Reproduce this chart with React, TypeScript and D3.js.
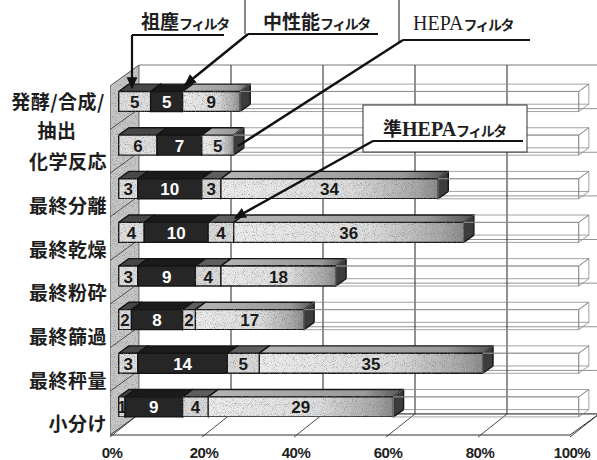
import * as d3 from "d3";

// 工程ごとのフィルタ使用数(全72件に対する割合で表示)
const categories = ["発酵/合成/抽出", "化学反応", "最終分離", "最終乾燥", "最終粉砕", "最終篩過", "最終秤量", "小分け"];
const coarse = [5, 6, 3, 4, 3, 2, 3, 1]; // 祖塵フィルタ
const medium = [5, 7, 10, 10, 9, 8, 14, 9]; // 中性能フィルタ
const semiHepa = [0, 0, 3, 4, 4, 2, 5, 4]; // 準HEPAフィルタ
const hepa = [9, 5, 34, 36, 18, 17, 35, 29]; // HEPAフィルタ
const noFilter = [53, 54, 22, 18, 38, 43, 15, 29]; // 残り(ラベルなし)
const tickValues = [0, 0.2, 0.4, 0.6, 0.8, 1];

const keys = ["coarse", "medium", "semiHepa", "hepa", "none"];

// 3D の奥行き
const DX = 29;
const DY = -21;
const Z0 = 0.3;
const Z1 = 0.65;

const style: Record<string, { front: string; top: string; right: string; text: string; grain: boolean }> = {
  coarse: { front: "#dedede", top: "#474747", right: "#333", text: "#1a1a1a", grain: true },
  medium: { front: "#262626", top: "#1b1b1b", right: "#111", text: "#fff", grain: false },
  semiHepa: { front: "#d8d8d8", top: "#5e5e5e", right: "#333", text: "#1a1a1a", grain: true },
  hepa: { front: "url(#hepaFront)", top: "url(#hepaTop)", right: "#3c3c3c", text: "#1a1a1a", grain: true },
};

export default function App() {
  const width = 597;
  const height = 460;

  const rows = categories.map((c, i) => ({
    cat: c,
    coarse: coarse[i],
    medium: medium[i],
    semiHepa: semiHepa[i],
    hepa: hepa[i],
    none: noFilter[i],
  }));

  const stacked = d3
    .stack<any>()
    .keys(keys)
    .offset(d3.stackOffsetExpand)(rows);

  const x = d3.scaleLinear().domain([0, 1]).range([110, 570]);
  const y = d3
    .scaleBand()
    .domain(categories)
    .range([86, 435])
    .paddingInner(0.54)
    .paddingOuter(0.27);
  const fmt = d3.format(".0%");

  const yTop = 86;
  const yBot = 435;
  const pt = (v: number, yy: number, z: number): [number, number] => [x(v) + DX * z, yy + DY * z];
  const poly = (ps: [number, number][]) => ps.map((p) => p.join(",")).join(" ");

  // カテゴリ境界(前面)
  const step = y.step();
  const bounds = d3.range(1, categories.length).map((k) => yTop + step * k);

  return (
    <svg
      width={width}
      height={height}
      style={{ position: "absolute", left: 0, top: 0, background: "#fff" }}
      fontFamily="'Noto Sans CJK JP', sans-serif"
    >
      <defs>
        <filter id="grain" x="0" y="0" width="1" height="1">
          <feTurbulence type="fractalNoise" baseFrequency="1.1" numOctaves="1" seed="5" result="n" />
          <feColorMatrix
            in="n"
            type="matrix"
            values="0 0 0 0 0.15  0 0 0 0 0.15  0 0 0 0 0.15  2.6 0 0 0 -1.35"
            result="d"
          />
          <feComposite in="d" in2="SourceGraphic" operator="in" result="dm" />
          <feMerge>
            <feMergeNode in="SourceGraphic" />
            <feMergeNode in="dm" />
          </feMerge>
        </filter>
        <linearGradient id="hepaFront" x1="0" x2="1" y1="0" y2="0">
          <stop offset="0" stopColor="#ececec" />
          <stop offset="0.6" stopColor="#dcdcdc" />
          <stop offset="0.9" stopColor="#a8a8a8" />
          <stop offset="1" stopColor="#8a8a8a" />
        </linearGradient>
        <linearGradient id="hepaTop" x1="0" x2="1" y1="0" y2="0">
          <stop offset="0" stopColor="#b5b5b5" />
          <stop offset="0.8" stopColor="#999" />
          <stop offset="1" stopColor="#555" />
        </linearGradient>
        <marker
          id="arrow"
          viewBox="0 0 10 10"
          refX="9"
          refY="5"
          markerWidth="12"
          markerHeight="12"
          markerUnits="userSpaceOnUse"
          orient="auto"
        >
          <path d="M0,0.5 L10,5 L0,9.5 z" fill="#111" />
        </marker>
      </defs>

      {/* 奥の壁 */}
      <polygon
        points={poly([pt(0, yTop, 1), pt(1, yTop, 1), pt(1, yBot, 1), pt(0, yBot, 1)])}
        fill="#fff"
        stroke="#555"
        strokeWidth={0.8}
      />
      {bounds.map((b, i) => (
        <line
          key={"hg" + i}
          x1={pt(0, b, 1)[0]}
          x2={pt(1, b, 1)[0]}
          y1={pt(0, b, 1)[1]}
          y2={pt(1, b, 1)[1]}
          stroke="#777"
          strokeWidth={0.8}
        />
      ))}
      {tickValues.slice(1, -1).map((t) => (
        <line
          key={"vg" + t}
          x1={pt(t, yTop, 1)[0]}
          x2={pt(t, yBot, 1)[0]}
          y1={pt(t, yTop, 1)[1]}
          y2={pt(t, yBot, 1)[1]}
          stroke="#222"
          strokeWidth={1}
        />
      ))}

      {/* 床 */}
      <polygon
        points={poly([pt(0, yBot, 0), pt(1, yBot, 0), pt(1, yBot, 1), pt(0, yBot, 1)])}
        fill="#fff"
        stroke="#333"
        strokeWidth={1}
      />
      {tickValues.map((t) => (
        <line
          key={"fl" + t}
          x1={pt(t, yBot, 0)[0]}
          y1={pt(t, yBot, 0)[1] + 2}
          x2={pt(t, yBot, 1)[0]}
          y2={pt(t, yBot, 1)[1]}
          stroke="#333"
          strokeWidth={0.9}
        />
      ))}

      {/* 左の壁 */}
      <polygon
        points={poly([pt(0, yTop, 0), pt(0, yTop, 1), pt(0, yBot, 1), pt(0, yBot, 0)])}
        fill="#c6c6c6"
        stroke="#444"
        strokeWidth={0.9}
        filter="url(#grain)"
      />
      {bounds.map((b, i) => (
        <line
          key={"wl" + i}
          x1={pt(0, b, 0)[0]}
          y1={pt(0, b, 0)[1]}
          x2={pt(0, b, 1)[0]}
          y2={pt(0, b, 1)[1]}
          stroke="#444"
          strokeWidth={0.9}
        />
      ))}

      {/* 棒 */}
      {categories.map((c, i) => {
        const yt = y(c) as number;
        const yb = yt + y.bandwidth();
        return (
          <g key={c}>
            {stacked.map((s) => {
              const v0 = s[i][0];
              const v1 = s[i][1];
              if (v1 - v0 <= 0) return null;
              const front = [pt(v0, yt, Z0), pt(v1, yt, Z0), pt(v1, yb, Z0), pt(v0, yb, Z0)];
              const top = [pt(v0, yt, Z0), pt(v1, yt, Z0), pt(v1, yt, Z1), pt(v0, yt, Z1)];
              const right = [pt(v1, yt, Z0), pt(v1, yt, Z1), pt(v1, yb, Z1), pt(v1, yb, Z0)];
              if (s.key === "none") {
                const a = pt(v0, yb, Z1);
                const b = pt(v1, yb, Z1);
                return (
                  <g key={s.key} fill="none" stroke="#8a8a8a" strokeWidth={0.8}>
                    <polygon points={poly(front)} />
                    <polygon points={poly(top)} />
                    <polygon points={poly(right)} />
                    <line x1={a[0]} y1={a[1]} x2={b[0]} y2={b[1]} />
                  </g>
                );
              }
              const st = style[s.key];
              const cx = (front[0][0] + front[1][0]) / 2;
              const cy = (front[0][1] + front[2][1]) / 2;
              const val = (rows[i] as any)[s.key];
              return (
                <g key={s.key} stroke="#151515" strokeWidth={1.4} strokeLinejoin="round">
                  <polygon points={poly(top)} fill={st.top} />
                  <polygon points={poly(right)} fill={st.right} />
                  <polygon
                    points={poly(front)}
                    fill={st.front}
                    filter={st.grain ? "url(#grain)" : undefined}
                  />
                  <text
                    x={cx}
                    y={cy + 1}
                    textAnchor="middle"
                    dominantBaseline="central"
                    fill={st.text}
                    stroke="none"
                    fontFamily="'Liberation Sans', Arial, sans-serif"
                    fontWeight="bold"
                    fontSize={17}
                  >
                    {val}
                  </text>
                </g>
              );
            })}
          </g>
        );
      })}

      {/* カテゴリラベル */}
      {categories.map((c) => {
        const cy = (y(c) as number) + y.bandwidth() / 2 + 9;
        const cut = c.lastIndexOf("/");
        const lines = cut > 0 && cut < c.length - 1 ? [c.slice(0, cut + 1), c.slice(cut + 1)] : [c];
        return (
          <text
            key={"cl" + c}
            textAnchor={lines.length > 1 ? "middle" : "end"}
            fontSize={19}
            fontWeight="bold"
            fill="#1e1e1e"
            dominantBaseline="central"
            letterSpacing={0.5}
          >
            {lines.length > 1 ? (
              lines.map((l, k) => (
                <tspan key={k} x={k === 0 ? 58 : 57} y={cy - 17 + k * 29}>
                  {l}
                </tspan>
              ))
            ) : (
              <tspan x={107} y={cy}>
                {c}
              </tspan>
            )}
          </text>
        );
      })}

      {/* 目盛ラベル */}
      {tickValues.map((t) => (
        <text
          key={"tk" + t}
          x={x(t) + 2}
          y={458}
          textAnchor="middle"
          fontFamily="'Liberation Sans', Arial, sans-serif"
          fontWeight="bold"
          fontSize={15}
          letterSpacing={-0.5}
          fill="#1e1e1e"
        >
          {fmt(t)}
        </text>
      ))}

      {/* 凡例の引き出し */}
      <g stroke="#111" fill="none">
        <line x1={245} y1={0} x2={245} y2={34} strokeWidth={1} />
        <line x1={399} y1={0} x2={399} y2={42} strokeWidth={1} />
        <line x1={132} y1={35} x2={224} y2={35} strokeWidth={2} />
        <line x1={132} y1={35} x2={132} y2={88} strokeWidth={2.2} markerEnd="url(#arrow)" />
        <line x1={248} y1={34} x2={378} y2={34} strokeWidth={2} />
        <line x1={248} y1={34} x2={185} y2={85} strokeWidth={2.5} markerEnd="url(#arrow)" />
        <line x1={403} y1={40} x2={530} y2={40} strokeWidth={2} />
        <line x1={403} y1={40} x2={238} y2={146} strokeWidth={2.5} />
      </g>
      <text x={141} y={29} fill="#1e1e1e" fontWeight="bold">
        <tspan fontSize={19}>祖塵</tspan>
        <tspan fontSize={14} letterSpacing={-1.5}>
          フィルタ
        </tspan>
      </text>
      <text x={263} y={29} fill="#1e1e1e" fontWeight="bold">
        <tspan fontSize={19}>中性能</tspan>
        <tspan fontSize={14} letterSpacing={-1.5}>
          フィルタ
        </tspan>
      </text>
      <text x={413} y={30} fill="#1e1e1e">
        <tspan fontSize={20} fontFamily="'Liberation Serif', 'DejaVu Serif', serif">
          HEPA
        </tspan>
        <tspan fontSize={14} letterSpacing={-1.5} fontWeight="bold">
          フィルタ
        </tspan>
      </text>

      <rect x={363} y={105} width={164} height={47} fill="#fff" stroke="#333" strokeWidth={1} />
      <text x={383} y={136} fill="#1e1e1e" fontWeight="bold">
        <tspan fontSize={19}>準</tspan>
        <tspan fontSize={20} fontFamily="'Liberation Serif', 'DejaVu Serif', serif">
          HEPA
        </tspan>
        <tspan fontSize={14} letterSpacing={-1.5}>
          フィルタ
        </tspan>
      </text>
      <g stroke="#111" fill="none">
        <line x1={373} y1={141} x2={523} y2={141} strokeWidth={2} />
        <line x1={373} y1={141} x2={235} y2={218} strokeWidth={2.5} markerEnd="url(#arrow)" />
      </g>
    </svg>
  );
}
